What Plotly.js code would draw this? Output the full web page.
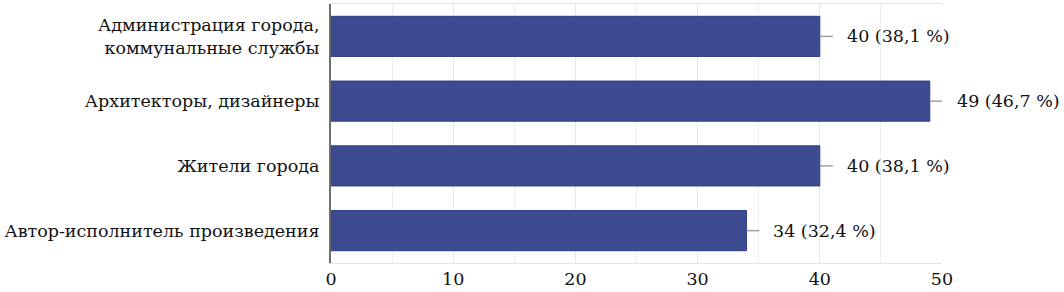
<!DOCTYPE html>
<html><head><meta charset="utf-8">
<script src="https://cdn.plot.ly/plotly-3.0.1.min.js"></script>
<style>html,body{margin:0;padding:0;background:#fff;}</style>
</head><body>
<div id="chart" style="width:1064px;height:292px;"></div>
<script>
const categories = [
  "Администрация города,<br>коммунальные службы",
  "Архитекторы, дизайнеры",
  "Жители города",
  "Автор-исполнитель произведения"
];
const counts = [40, 49, 40, 34];
const percents = ["38,1", "46,7", "38,1", "32,4"];
const xTicks = [0, 10, 20, 30, 40, 50];

const labels = counts.map((c, i) => c + " (" + percents[i] + " %)");
const FONT = 'DejaVu Serif';
const FS = 17.5;

const shapes = counts.map((c, i) => ({
  type: 'line', xref: 'x', yref: 'y',
  xsizemode: 'pixel', xanchor: c, x0: 0, x1: 13,
  y0: categories[i], y1: categories[i],
  line: {color: '#a0a0a0', width: 1.5}
}));
const annotations = counts.map((c, i) => ({
  x: c, y: categories[i], xref: 'x', yref: 'y',
  text: labels[i], showarrow: false, xanchor: 'left', xshift: 25,
  font: {family: FONT, size: FS, color: '#111'}
}));

Plotly.newPlot('chart', [{
  type: 'bar', orientation: 'h',
  x: counts, y: categories,
  marker: {color: '#3d4c91', line: {color: '#2e3c8a', width: 1}},
  hoverinfo: 'none'
}], {
  width: 1064, height: 292,
  margin: {l: 331, r: 122, t: 4, b: 29},
  paper_bgcolor: '#fff', plot_bgcolor: '#fff',
  bargap: 0.38,
  font: {family: FONT, size: FS, color: '#111'},
  xaxis: {
    range: [0, 50], tickvals: xTicks, ticktext: xTicks.map(String),
    showgrid: true, gridcolor: '#e6e6e6', gridwidth: 1,
    minor: {dtick: 5, showgrid: true, gridcolor: '#efefef', gridwidth: 1},
    showline: true, linecolor: '#e6e6e6', linewidth: 1, mirror: true,
    zeroline: false, ticks: '', fixedrange: true,
    tickfont: {family: FONT, size: FS, color: '#111'}
  },
  yaxis: {
    autorange: 'reversed', showline: true, linecolor: '#6e6e6e', linewidth: 2,
    showgrid: false, zeroline: false, ticks: '', ticklabelstandoff: 6,
    tickfont: {family: FONT, size: FS, color: '#111'}, fixedrange: true
  },
  shapes: shapes,
  annotations: annotations,
  showlegend: false
}, {displayModeBar: false, staticPlot: true});
</script>
</body></html>
